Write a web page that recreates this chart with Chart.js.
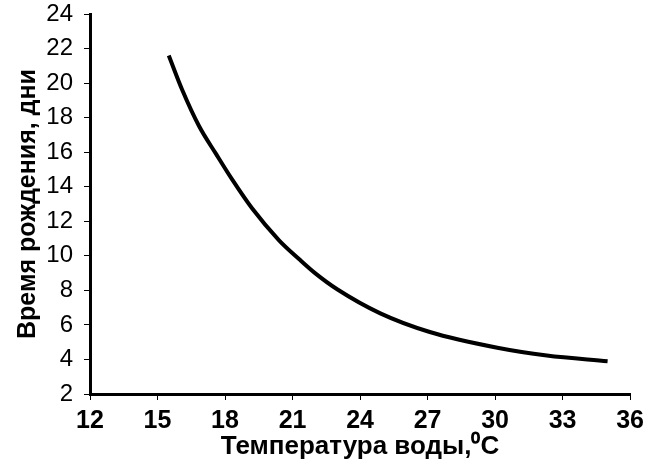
<!DOCTYPE html>
<html lang="ru">
<head>
<meta charset="UTF-8">
<title>Время рождения</title>
<script src="https://cdn.jsdelivr.net/npm/chart.js"></script>
<style>
  html, body { margin: 0; padding: 0; background: #fff; }
  #wrap { width: 650px; height: 466px; }
</style>
</head>
<body>
<div id="wrap"><canvas id="myChart" width="650" height="466"></canvas></div>
<script>
// температура воды, °C
const temps = [15.5, 16.1, 16.85, 17.6, 18.3, 19.2, 20.4, 21.3, 22.0, 23.0, 24.9, 27.1, 30.1, 32.3, 35.0];
// время рождения, дни
const days = [21.6, 19.6, 17.5, 15.9, 14.45, 12.75, 10.9, 9.8, 9.0, 8.05, 6.67, 5.59, 4.68, 4.23, 3.9];

const xTitle = 'Температура воды,\u2070C';
const yTitle = 'Время рождения, дни';

const points = temps.map((t, i) => ({ x: t, y: days[i] }));

const ctx = document.getElementById('myChart').getContext('2d');
new Chart(ctx, {
    type: 'scatter',
    data: {
        datasets: [{
            data: points,
            showLine: true,
            borderColor: '#000',
            borderWidth: 4,
            pointRadius: 0,
            cubicInterpolationMode: 'monotone',
            fill: false
        }]
    },
    options: {
        responsive: false,
        animation: false,
        layout: { padding: { top: 14, right: 16, left: 0, bottom: 0 } },
        plugins: { legend: { display: false }, tooltip: { enabled: false } },
        scales: {
            x: {
                type: 'linear',
                min: 12, max: 36,
                border: { color: '#000', width: 3 },
                grid: { drawOnChartArea: false, color: '#000', tickLength: 6, tickColor: '#000' },
                ticks: {
                    stepSize: 3, color: '#000', padding: 6, maxRotation: 0,
                    font: { family: '"Liberation Sans", Arial', size: 25, weight: 'bold' }
                },
                title: {
                    display: true, text: xTitle, color: '#000', padding: { top: 0, bottom: 4 },
                    font: { family: '"Liberation Sans", Arial', size: 26, weight: 'bold' }
                },
                afterFit: s => { s.height = 72; }
            },
            y: {
                min: 2, max: 24,
                border: { color: '#000', width: 3 },
                grid: { drawOnChartArea: false, color: '#000', tickLength: 6, tickColor: '#000' },
                ticks: {
                    stepSize: 2, color: '#000', padding: 11,
                    font: { family: '"Liberation Sans", Arial', size: 24 }
                },
                title: {
                    display: true, text: yTitle, color: '#000', padding: { top: 13, bottom: 0 },
                    font: { family: '"Liberation Sans", Arial', size: 25, weight: 'bold' }
                },
                afterFit: s => { s.width = 90; s.paddingTop = 0; s.paddingBottom = 0; }
            }
        }
    }
});
</script>
</body>
</html>
